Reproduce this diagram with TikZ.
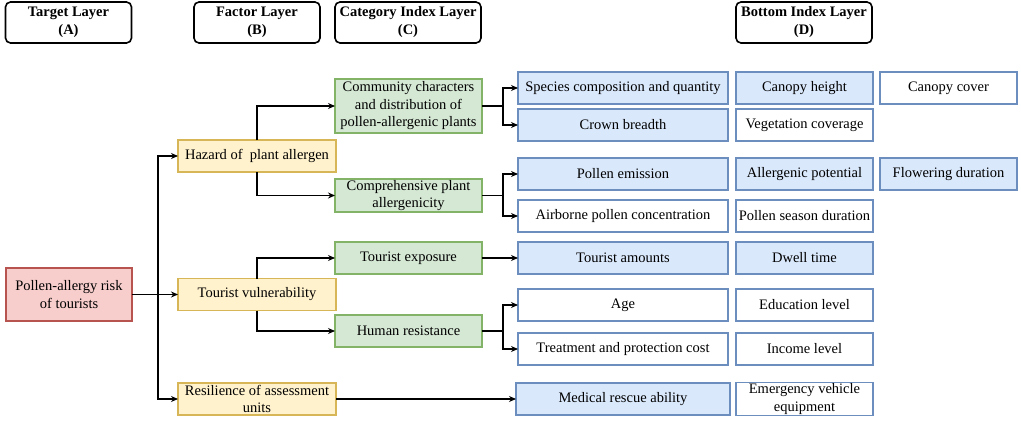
\documentclass[tikz,border=0pt]{standalone}
\usepackage{fontspec}
\setmainfont{Liberation Serif}
\usetikzlibrary{arrows.meta}
\definecolor{redfill}{HTML}{F8CECC}
\definecolor{redline}{HTML}{B85450}
\definecolor{yelfill}{HTML}{FFF2CC}
\definecolor{yelline}{HTML}{D6B656}
\definecolor{grnfill}{HTML}{D5E8D4}
\definecolor{grnline}{HTML}{82B366}
\definecolor{blufill}{HTML}{DAE8FC}
\definecolor{bluline}{HTML}{6C8EBF}
\begin{document}
\begin{tikzpicture}[x=1pt, y=-1pt, font=\fontsize{14.5}{17.5}\selectfont,
	every node/.style={outer sep=0pt, inner sep=1pt, align=center, line width=1.6pt},
	hdr/.style={draw, rounded corners=5pt, minimum height=41pt, font=\fontsize{14.5}{18}\selectfont\bfseries},
	tgt/.style={draw=redline, fill=redfill, minimum width=126pt, minimum height=53pt},
	fac/.style={draw=yelline, fill=yelfill, minimum width=158pt, minimum height=32pt},
	cat/.style={draw=grnline, fill=grnfill, minimum width=147pt, minimum height=32pt},
	bot/.style={draw=bluline, fill=blufill, minimum height=32pt},
	botw/.style={draw=bluline, fill=white, minimum height=32pt},
	>={Stealth[length=7pt, width=6pt]}, line width=1.2pt]
	
	\useasboundingbox (0,0) rectangle (1021,423);
	
	% Headers
	\node[hdr, minimum width=126pt] (hA) at (68.5, 22.5) {Target Layer\\(A)};
	\node[hdr, minimum width=126pt] (hB) at (257, 22.5) {Factor Layer\\(B)};
	\node[hdr, minimum width=146pt] (hC) at (408, 22.5) {Category Index Layer\\(C)};
	\node[hdr, minimum width=136pt] (hD) at (804, 22.5) {Bottom Index Layer\\(D)};
	
	% Target and factors
	\node[tgt] (risk) at (69, 294.5) {Pollen-allergy risk\\of tourists};
	\node[fac] (haz) at (257, 156) {Hazard of~ plant allergen};
	\node[fac] (vul) at (257, 294.5) {Tourist vulnerability};
	\node[fac] (res) at (257, 399) {Resilience of assessment\\units};
	
	% Categories
	\node[cat, minimum height=54pt] (com) at (408.5, 106) {Community characters\\and distribution of\\pollen-allergenic plants};
	\node[cat, minimum height=33pt] (cmp) at (408.5, 195.5) {Comprehensive plant\\allergenicity};
	\node[cat] (exp) at (408.5, 258) {Tourist exposure};
	\node[cat] (hum) at (408.5, 331) {Human resistance};
	
	% Bottom indexes, column 1
	\node[bot, minimum width=210pt] (spc) at (623, 88) {Species composition and quantity};
	\node[bot, minimum width=210pt] (crw) at (623, 125) {Crown breadth};
	\node[bot, minimum width=210pt] (pem) at (623, 174) {Pollen emission};
	\node[botw, minimum width=210pt] (apc) at (623, 216) {Airborne pollen concentration};
	\node[bot, minimum width=210pt] (tam) at (623, 258) {Tourist amounts};
	\node[botw, minimum width=210pt] (age) at (623, 305) {Age};
	\node[botw, minimum width=210pt] (tpc) at (623, 349) {Treatment and protection cost};
	\node[bot, minimum width=214pt] (mra) at (623, 399) {Medical rescue ability};
	
	% Bottom indexes, column 2
	\node[bot, minimum width=137pt] (cnh) at (804.5, 88) {Canopy height};
	\node[botw, minimum width=137pt] (vgc) at (804.5, 125) {Vegetation coverage};
	\node[bot, minimum width=137pt] (alp) at (804.5, 174) {Allergenic potential};
	\node[botw, minimum width=137pt] (psd) at (804.5, 216) {Pollen season duration};
	\node[bot, minimum width=137pt] (dwt) at (804.5, 258) {Dwell time};
	\node[botw, minimum width=137pt] (edu) at (804.5, 305) {Education level};
	\node[botw, minimum width=137pt] (inc) at (804.5, 349) {Income level};
	\node[botw, minimum width=137pt] (emv) at (804.5, 399) {Emergency vehicle\\equipment};
	
	% Bottom indexes, column 3
	\node[botw, minimum width=137pt] (cnc) at (948.5, 88) {Canopy cover};
	\node[bot, minimum width=137pt] (fld) at (948.5, 174) {Flowering duration};
	
	% Connectors
	\coordinate (s0) at (158, 294.5);
	\draw[->] (risk) -- (vul);
	\draw[->] (s0) |- (haz.west);
	\draw[->] (s0) |- (res.west);
	
	\draw[->] (haz.north) |- (com.west);
	\draw[->] (haz.south) |- (cmp.west);
	\draw[->] (vul.north) |- (exp.west);
	\draw[->] (vul.south) |- (hum.west);
	
	\coordinate (s1) at (503, 106);
	\coordinate (s2) at (503, 195.5);
	\coordinate (s3) at (503, 331);
	\draw (com.east) -- (s1);
	\draw[->] (s1) |- (spc.west);
	\draw[->] (s1) |- (crw.west);
	\draw (cmp.east) -- (s2);
	\draw[->] (s2) |- (pem.west);
	\draw[->] (s2) |- (apc.west);
	\draw (hum.east) -- (s3);
	\draw[->] (s3) |- (age.west);
	\draw[->] (s3) |- (tpc.west);
	
	\draw[->] (exp) -- (tam);
	\draw[->] (res) -- (mra);
	
\end{tikzpicture}
\end{document}
